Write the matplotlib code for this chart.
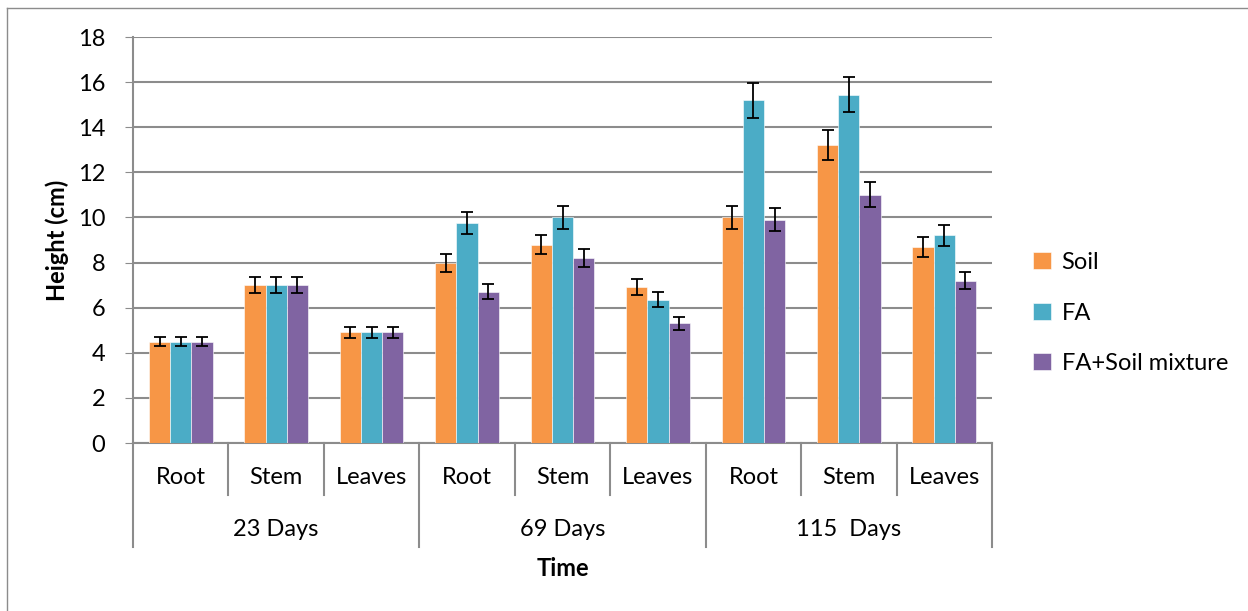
import matplotlib
matplotlib.use("Agg")
import matplotlib.pyplot as plt
from matplotlib.lines import Line2D
import numpy as np

plt.rcParams['font.family'] = ['Lato', 'DejaVu Sans']

# data
groups = ["23 Days", "69 Days", "115  Days"]
parts = ["Root", "Stem", "Leaves"]
series = ["Soil", "FA", "FA+Soil mixture"]
colors = ["#F79646", "#4BACC6", "#8064A2"]

soil = [4.5, 7.0, 4.9, 8.0, 8.8, 6.9, 10.0, 13.2, 8.7]
fa = [4.5, 7.0, 4.9, 9.75, 10.0, 6.35, 15.2, 15.45, 9.2]
mix = [4.5, 7.0, 4.9, 6.7, 8.2, 5.3, 9.9, 11.0, 7.2]

soil_err = [0.22, 0.36, 0.25, 0.4, 0.44, 0.35, 0.52, 0.66, 0.44]
fa_err = [0.22, 0.36, 0.25, 0.5, 0.5, 0.33, 0.77, 0.78, 0.46]
mix_err = [0.22, 0.36, 0.25, 0.33, 0.41, 0.28, 0.51, 0.55, 0.36]

FS = 17
W, H = 1248, 611
fig = plt.figure(figsize=(W / 100, H / 100), dpi=100)

# outer chart border
fig.add_artist(Line2D([7 / W, 7 / W], [0, 1 - 8 / H], color="#8c8c8c", lw=1.0))
fig.add_artist(Line2D([7 / W, 1], [1 - 8 / H, 1 - 8 / H], color="#8c8c8c", lw=1.0))

left, right, top, bottom = 133, 992, 37, 443
ax = fig.add_axes([left / W, 1 - bottom / H, (right - left) / W, (bottom - top) / H])

n = len(soil)
x = np.arange(n)
bw = 1 / 4.5
vals = [soil, fa, mix]
errs = [soil_err, fa_err, mix_err]
for i in range(3):
    ax.bar(x + (i - 1) * bw, vals[i], bw, color=colors[i], label=series[i],
           edgecolor="white", linewidth=0.4, zorder=3,
           yerr=errs[i], error_kw=dict(ecolor="black", elinewidth=1.3, capsize=4.5, capthick=1.3, zorder=4))

ax.set_xlim(-0.5, n - 0.5)
ax.set_ylim(0, 18)
ax.set_yticks(range(0, 19, 2))
ax.tick_params(axis="y", length=6, color="#8c8c8c", labelsize=FS, pad=14)
ax.set_xticks([])
ax.grid(axis="y", color="#8c8c8c", lw=1.5, zorder=0)
for s in ["top", "right"]:
    ax.spines[s].set_visible(False)
ax.spines["left"].set_color("#8c8c8c")
ax.spines["bottom"].set_color("#8c8c8c")
ax.spines["left"].set_linewidth(1.5)
ax.spines["bottom"].set_linewidth(1.5)

ax.set_ylabel("Height (cm)", fontsize=FS, fontweight="bold", labelpad=6)

# category axis with two levels
tr = ax.get_xaxis_transform()
inner_y = -(495 - bottom) / (bottom - top)
outer_y = -(547 - bottom) / (bottom - top)
for k in range(n + 1):
    xe = k - 0.5
    y2 = outer_y if k % 3 == 0 else inner_y
    ax.add_line(Line2D([xe, xe], [0, y2], transform=tr, color="#8c8c8c", lw=1.5, clip_on=False))
for k in range(n):
    ax.text(k, -(478 - bottom) / (bottom - top), parts[k % 3], transform=tr,
            ha="center", va="center", fontsize=FS)
for g in range(len(groups)):
    ax.text(3 * g + 1, -(530 - bottom) / (bottom - top), groups[g], transform=tr,
            ha="center", va="center", fontsize=FS)
ax.text(4, -(568 - bottom) / (bottom - top), "Time", transform=tr,
        ha="center", va="center", fontsize=FS, fontweight="bold")

# legend
handles, labels = ax.get_legend_handles_labels()
leg = fig.legend(handles, labels, loc="center left", bbox_to_anchor=(1012 / W, 1 - 313 / H),
                 frameon=False, fontsize=FS, handlelength=0.75, handleheight=0.75,
                 handletextpad=0.45, labelspacing=1.25)

fig.savefig("out.png", dpi=100)
